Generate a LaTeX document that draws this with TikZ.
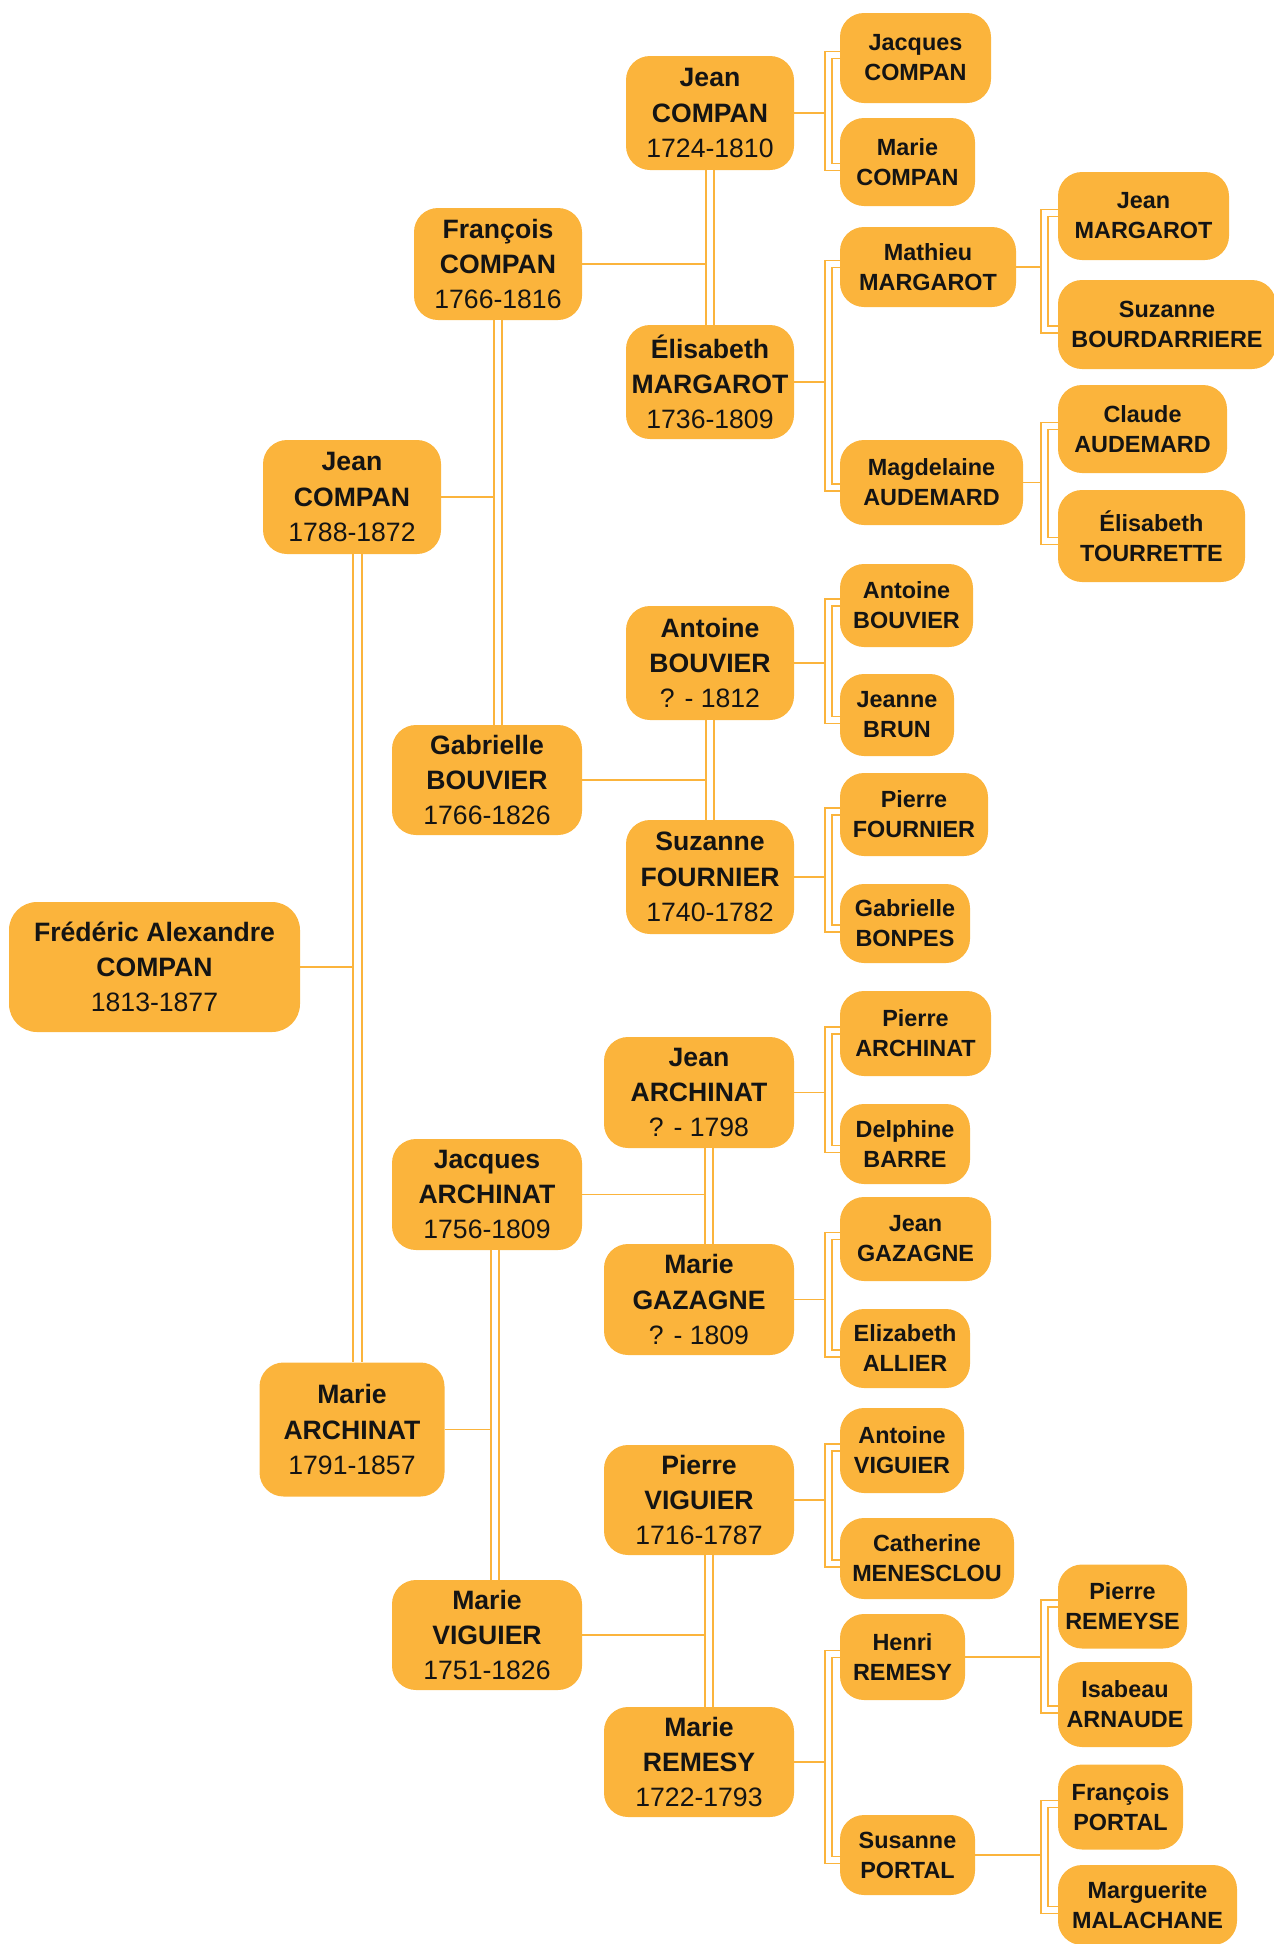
\documentclass[tikz,border=0pt]{standalone}
\usepackage{fontspec}
\setmainfont{Liberation Sans}
\usepackage{tikz}
\definecolor{ambre}{HTML}{FBB43C}
\definecolor{encre}{HTML}{141414}
\tikzset{
  person/.style={fill=ambre, rounded corners=12pt, text=encre, align=center, inner sep=0pt},
  gros/.style={person, font=\bfseries\fontsize{13.3}{17.6}\selectfont},
  petit/.style={person, font=\bfseries\fontsize{11.7}{15}\selectfont},
  taille/.style 2 args={minimum width=#1*0.5pt, minimum height=#2*0.5pt},
  link/.style={draw=ambre, line width=0.85pt},
  couple/.style={draw=ambre, line width=0.85pt, double=white, double distance=3.4pt},
  bracket/.style={draw=ambre, line width=0.85pt, double=white, double distance=2.7pt},
}

\begin{document}
\begin{tikzpicture}[x=0.5pt,y=-0.5pt]
	\useasboundingbox (0,0) rectangle (1274,1944);

	% generation 0 and 1
	\node[gros, taille={291}{130}, rounded corners=14pt] (fred) at (154.5,967) {Frédéric Alexandre\\COMPAN\\{\mdseries 1813-1877}};
	\node[gros, taille={178}{114}] (jean1788) at (352,497) {Jean\\COMPAN\\{\mdseries 1788-1872}};
	\node[gros, taille={185}{134}] (marieA) at (352,1429.5) {Marie\\ARCHINAT\\{\mdseries 1791-1857}};

	% generation 2
	\node[gros, taille={168}{112}] (francois) at (498,264) {François\\COMPAN\\{\mdseries 1766-1816}};
	\node[gros, taille={190}{110}] (gabrielle) at (487,780) {Gabrielle\\BOUVIER\\{\mdseries 1766-1826}};
	\node[gros, taille={190}{111}] (jacquesA) at (487,1194.5) {Jacques\\ARCHINAT\\{\mdseries 1756-1809}};
	\node[gros, taille={190}{110}] (marieV) at (487,1635) {Marie\\VIGUIER\\{\mdseries 1751-1826}};

	% generation 3
	\node[gros, taille={168}{114}] (jean1724) at (710,113) {Jean\\COMPAN\\{\mdseries 1724-1810}};
	\node[gros, taille={168}{114}] (elisabeth) at (710,382) {Élisabeth\\MARGAROT\\{\mdseries 1736-1809}};
	\node[gros, taille={168}{114}] (antoineB) at (710,663) {Antoine\\BOUVIER\\{\mdseries ? - 1812}};
	\node[gros, taille={168}{114}] (suzanneF) at (710,877) {Suzanne\\FOURNIER\\{\mdseries 1740-1782}};
	\node[gros, taille={190}{111}] (jeanA) at (699,1092.5) {Jean\\ARCHINAT\\{\mdseries ? - 1798}};
	\node[gros, taille={190}{111}] (marieG) at (699,1299.5) {Marie\\GAZAGNE\\{\mdseries ? - 1809}};
	\node[gros, taille={190}{110}] (pierreV) at (699,1500) {Pierre\\VIGUIER\\{\mdseries 1716-1787}};
	\node[gros, taille={190}{110}] (marieR) at (699,1762) {Marie\\REMESY\\{\mdseries 1722-1793}};

	% generation 4
	\node[petit, taille={151}{90}] (jacquesC) at (915.5,58) {Jacques\\COMPAN};
	\node[petit, taille={135}{88}] (marieC) at (907.5,162) {Marie\\COMPAN};
	\node[petit, taille={176}{80}] (mathieu) at (928,267) {Mathieu\\MARGAROT};
	\node[petit, taille={183}{85}] (magdelaine) at (931.5,482.5) {Magdelaine\\AUDEMARD};
	\node[petit, taille={133}{83}] (antoineB2) at (906.5,605.5) {Antoine\\BOUVIER};
	\node[petit, taille={114}{82}] (jeanne) at (897,715) {Jeanne\\BRUN};
	\node[petit, taille={148}{83}] (pierreF) at (914,814.5) {Pierre\\FOURNIER};
	\node[petit, taille={130}{79}] (gabrielleB) at (905,923.5) {Gabrielle\\BONPES};
	\node[petit, taille={151}{85}] (pierreA) at (915.5,1033.5) {Pierre\\ARCHINAT};
	\node[petit, taille={130}{80}] (delphine) at (905,1144) {Delphine\\BARRE};
	\node[petit, taille={151}{84}] (jeanG) at (915.5,1239) {Jean\\GAZAGNE};
	\node[petit, taille={130}{79}] (elizabethA) at (905,1348.5) {Elizabeth\\ALLIER};
	\node[petit, taille={124}{85}] (antoineV) at (902,1450.5) {Antoine\\VIGUIER};
	\node[petit, taille={174}{81}] (catherine) at (927,1558.5) {Catherine\\MENESCLOU};
	\node[petit, taille={125}{86}] (henri) at (902.5,1657) {Henri\\REMESY};
	\node[petit, taille={135}{80}] (susanne) at (907.5,1855) {Susanne\\PORTAL};

	% generation 5
	\node[petit, taille={171}{88}] (jeanM) at (1143.5,216) {Jean\\MARGAROT};
	\node[petit, taille={218}{89}] (suzanneB) at (1167,324.5) {Suzanne\\BOURDARRIERE};
	\node[petit, taille={169}{88}] (claude) at (1142.5,429) {Claude\\AUDEMARD};
	\node[petit, taille={187}{92}] (elisabethT) at (1151.5,536) {Élisabeth\\TOURRETTE};
	\node[petit, taille={129}{84}] (pierreR) at (1122.5,1606.5) {Pierre\\REMEYSE};
	\node[petit, taille={134}{85}] (isabeau) at (1125,1704.5) {Isabeau\\ARNAUDE};
	\node[petit, taille={125}{85}] (francoisP) at (1120.5,1807) {François\\PORTAL};
	\node[petit, taille={179}{80}] (marguerite) at (1147.5,1905) {Marguerite\\MALACHANE};

	% spines between the couples
	\coordinate (sp1) at (357.5,0);
	\coordinate (sp2) at (498,0);
	\coordinate (sp3) at (495,0);
	\coordinate (sp4) at (710,0);
	\coordinate (sp5) at (710,0);
	\coordinate (sp6) at (709,0);
	\coordinate (sp7) at (709,0);

	\draw[link] (fred.east) -- (fred.east -| sp1);
	\draw[link] (jean1788.east) -- (jean1788.east -| sp2);
	\draw[link] (marieA.east) -- (marieA.east -| sp3);
	\draw[link] (francois.east) -- (francois.east -| sp4);
	\draw[link] (gabrielle.east) -- (gabrielle.east -| sp5);
	\draw[link] (jacquesA.east) -- (jacquesA.east -| sp6);
	\draw[link] (marieV.east) -- (marieV.east -| sp7);

	\draw[couple] (jean1788.south -| sp1) -- (marieA.north -| sp1);
	\draw[couple] (francois.south -| sp2) -- (gabrielle.north -| sp2);
	\draw[couple] (jacquesA.south -| sp3) -- (marieV.north -| sp3);
	\draw[couple] (jean1724.south -| sp4) -- (elisabeth.north -| sp4);
	\draw[couple] (antoineB.south -| sp5) -- (suzanneF.north -| sp5);
	\draw[couple] (jeanA.south -| sp6) -- (marieG.north -| sp6);
	\draw[couple] (pierreV.south -| sp7) -- (marieR.north -| sp7);

	% brackets for the last generations
	\coordinate (b1) at (828.5,113);
	\coordinate (b2) at (828.5,382);
	\coordinate (b3) at (828.5,663);
	\coordinate (b4) at (828.5,877);
	\coordinate (b5) at (828.5,1092.5);
	\coordinate (b6) at (828.5,1299.5);
	\coordinate (b7) at (828.5,1500);
	\coordinate (b8) at (828.5,1762);
	\coordinate (b9) at (1044.5,267);
	\coordinate (b10) at (1044.5,482.5);
	\coordinate (b11) at (1044.5,1657);
	\coordinate (b12) at (1044.5,1855);

	\draw[link] (jean1724.east) -- (b1);
	\draw[link] (elisabeth.east) -- (b2);
	\draw[link] (antoineB.east) -- (b3);
	\draw[link] (suzanneF.east) -- (b4);
	\draw[link] (jeanA.east) -- (b5);
	\draw[link] (marieG.east) -- (b6);
	\draw[link] (pierreV.east) -- (b7);
	\draw[link] (marieR.east) -- (b8);
	\draw[link] (mathieu.east) -- (b9);
	\draw[link] (magdelaine.east) -- (b10);
	\draw[link] (henri.east) -- (b11);
	\draw[link] (susanne.east) -- (b12);

	\draw[bracket] ([yshift=1.5pt]jacquesC.west) -| (b1) |- ([yshift=-2.5pt]marieC.west);
	\draw[bracket] ([yshift=1.5pt]mathieu.west) -| (b2) |- ([yshift=-2.5pt]magdelaine.west);
	\draw[bracket] ([yshift=1.5pt]antoineB2.west) -| (b3) |- ([yshift=-2.5pt]jeanne.west);
	\draw[bracket] ([yshift=1.5pt]pierreF.west) -| (b4) |- ([yshift=-2.5pt]gabrielleB.west);
	\draw[bracket] ([yshift=1.5pt]pierreA.west) -| (b5) |- ([yshift=-2.5pt]delphine.west);
	\draw[bracket] ([yshift=1.5pt]jeanG.west) -| (b6) |- ([yshift=-2.5pt]elizabethA.west);
	\draw[bracket] ([yshift=1.5pt]antoineV.west) -| (b7) |- ([yshift=-2.5pt]catherine.west);
	\draw[bracket] ([yshift=1.5pt]henri.west) -| (b8) |- ([yshift=-2.5pt]susanne.west);
	\draw[bracket] ([yshift=1.5pt]jeanM.west) -| (b9) |- ([yshift=-2.5pt]suzanneB.west);
	\draw[bracket] ([yshift=1.5pt]claude.west) -| (b10) |- ([yshift=-2.5pt]elisabethT.west);
	\draw[bracket] ([yshift=1.5pt]pierreR.west) -| (b11) |- ([yshift=-2.5pt]isabeau.west);
	\draw[bracket] ([yshift=1.5pt]francoisP.west) -| (b12) |- ([yshift=-2.5pt]marguerite.west);

\end{tikzpicture}
\end{document}
